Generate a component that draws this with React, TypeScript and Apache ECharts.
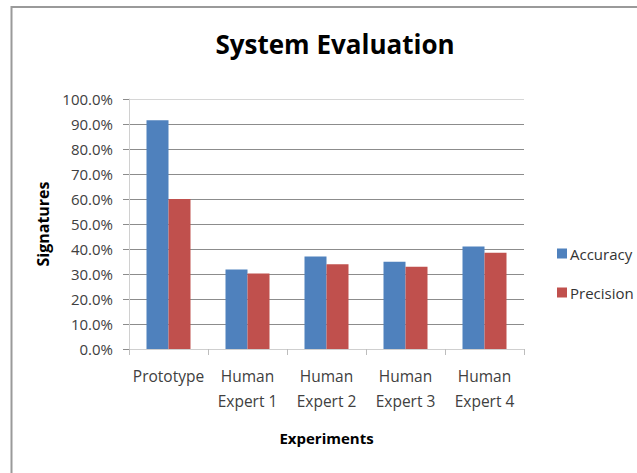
import React, { useEffect, useRef } from "react";
import * as echarts from "echarts";

const categories = ["Prototype", "Human\nExpert 1", "Human\nExpert 2", "Human\nExpert 3", "Human\nExpert 4"];
const accuracy = [91.5, 31.8, 37.0, 34.9, 41.0];
const precision = [60.0, 30.2, 33.9, 32.9, 38.5];
const seriesNames = ["Accuracy", "Precision"];

export default function App() {
  const ref = useRef<HTMLDivElement>(null);
  useEffect(() => {
    const chart = echarts.init(ref.current!, null, { renderer: "svg" });
    const font = "'Open Sans', 'Noto Sans', sans-serif";
    const gridColors = ["#d0d0d0", "#8c8c8c", "#8c8c8c", "#8c8c8c", "#8c8c8c", "#8c8c8c", "#8c8c8c", "#8c8c8c", "#8c8c8c", "#8c8c8c", "#d6d6d6"];
    chart.setOption({
      animation: false,
      backgroundColor: "#ffffff",
      textStyle: { fontFamily: font },
      title: {
        text: "System Evaluation",
        left: 330,
        top: 26,
        textAlign: "center",
        textStyle: { fontFamily: font, fontSize: 26, fontWeight: "bold", color: "#000" },
      },
      graphic: [
        {
          type: "rect",
          shape: { x: 11.5, y: 7, width: 640, height: 480 },
          style: { fill: "none", stroke: "#9a9a9a", lineWidth: 2 },
        },
      ],
      legend: {
        orient: "vertical",
        left: 552,
        top: 241,
        itemWidth: 10,
        itemHeight: 10,
        itemGap: 24,
        icon: "rect",
        textStyle: { fontFamily: font, fontSize: 15, color: "#333", padding: [0, 0, 0, -2] },
        data: seriesNames,
      },
      grid: { left: 129, right: 113, top: 99, bottom: 124, containLabel: false },
      xAxis: {
        type: "category",
        data: categories,
        name: "Experiments",
        nameLocation: "middle",
        nameGap: 81,
        nameTextStyle: { fontFamily: font, fontSize: 15, fontWeight: "bold", color: "#000" },
        axisLine: { show: true, lineStyle: { color: "#cfcfcf", width: 1 } },
        axisTick: { show: true, length: 6, alignWithLabel: false, lineStyle: { color: "#bdbdbd" } },
        axisLabel: { fontFamily: font, fontSize: 15.5, color: "#404040", lineHeight: 25, margin: 14, interval: 0 },
      },
      yAxis: {
        type: "value",
        min: 0,
        max: 100,
        interval: 10,
        name: "Signatures",
        nameLocation: "middle",
        nameGap: 76,
        nameRotate: 90,
        nameTextStyle: { fontFamily: font, fontSize: 16, fontWeight: "bold", color: "#000" },
        axisLine: { show: true, lineStyle: { color: "#d0d0d0", width: 1 } },
        axisTick: { show: true, length: 6, lineStyle: { color: "#8c8c8c" } },
        axisLabel: {
          fontFamily: font,
          fontSize: 15,
          color: "#404040",
          margin: 16,
          formatter: (v: number) => v.toFixed(1) + "%",
        },
        splitLine: { show: true, lineStyle: { color: gridColors, width: 1.2 } },
      },
      series: [
        {
          name: seriesNames[0],
          type: "bar",
          data: accuracy,
          barWidth: 22,
          barGap: "0%",
          itemStyle: { color: "#4F81BD" },
        },
        {
          name: seriesNames[1],
          type: "bar",
          data: precision,
          barWidth: 22,
          barGap: "0%",
          itemStyle: { color: "#C0504D" },
        },
      ],
    });
    return () => chart.dispose();
  }, []);
  return (
    <div
      ref={ref}
      style={{ position: "absolute", left: 0, top: 0, width: 637, height: 473 }}
    />
  );
}
